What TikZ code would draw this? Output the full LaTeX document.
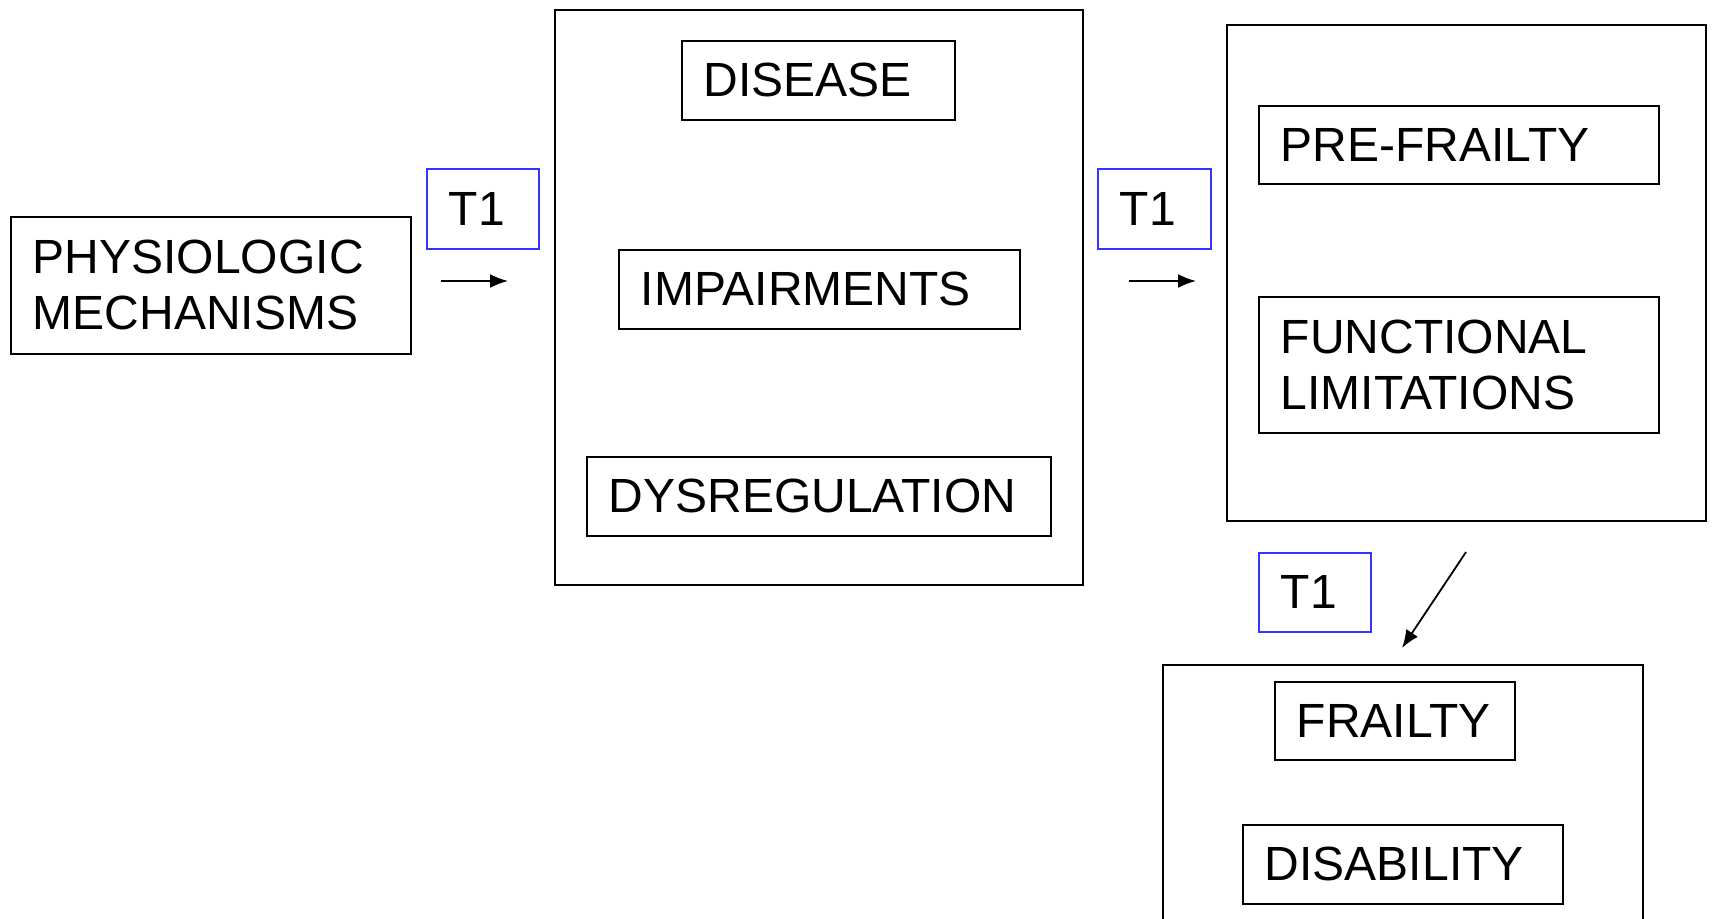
\documentclass[tikz,border=0pt]{standalone}
\usepackage{fontspec}
\setmainfont{Liberation Sans}
\usetikzlibrary{arrows.meta}
\definecolor{tblue}{RGB}{51,51,255}
\tikzset{
  lbl/.style={draw=black, line width=1.8pt, inner xsep=22pt, inner ysep=0pt,
    align=left, anchor=north west, font=\fontsize{48}{56}\selectfont},
  tbox/.style={lbl, draw=tblue},
  group/.style={draw=black, line width=1.8pt, inner sep=0pt, anchor=north west},
  conn/.style={line width=1.8pt, -{Latex[length=18pt,width=14pt]}}
}
\begin{document}
\begin{tikzpicture}[x=1pt,y=-1pt]
\useasboundingbox (0,0) rectangle (1712,918);
\clip (0,0) rectangle (1712,918);
% left box
\node[lbl, text width=356pt, minimum height=137pt] (phys) at (10,216) {PHYSIOLOGIC\\MECHANISMS};
% T1 boxes
\node[tbox, text width=68pt, minimum height=80pt] (t1a) at (426,168) {T1};
\node[tbox, text width=69pt, minimum height=80pt] (t1b) at (1097,168) {T1};
\node[tbox, text width=68pt, minimum height=79pt] (t1c) at (1258,552) {T1};
% group 1
\node[group, minimum width=528pt, minimum height=575pt] (g1) at (554,9) {};
\node[lbl, text width=229pt, minimum height=79pt] (disease) at (681,40) {DISEASE};
\node[lbl, text width=357pt, minimum height=79pt] (impair) at (618,249) {IMPAIRMENTS};
\node[lbl, text width=420pt, minimum height=79pt] (dysreg) at (586,456) {DYSREGULATION};
% group 2
\node[group, minimum width=479pt, minimum height=496pt] (g2) at (1226,24) {};
\node[lbl, text width=356pt, minimum height=78pt] (prefr) at (1258,105) {PRE-FRAILTY};
\node[lbl, text width=356pt, minimum height=136pt] (funct) at (1258,296) {FUNCTIONAL\\LIMITATIONS};
% group 3
\node[group, minimum width=480pt, minimum height=300pt] (g3) at (1162,664) {};
\node[lbl, text width=196pt, minimum height=78pt] (frailty) at (1274,681) {FRAILTY};
\node[lbl, text width=276pt, minimum height=79pt] (disab) at (1242,824) {DISABILITY};
% arrows
\coordinate (a1s) at (441,281);
\coordinate (a1e) at (508,281);
\coordinate (a2s) at (1129,281);
\coordinate (a2e) at (1196,281);
\coordinate (a3s) at (1466,552);
\coordinate (a3e) at (1402,648);
\draw[conn] (a1s) -- (a1e);
\draw[conn] (a2s) -- (a2e);
\draw[conn] (a3s) -- (a3e);
\end{tikzpicture}
\end{document}
